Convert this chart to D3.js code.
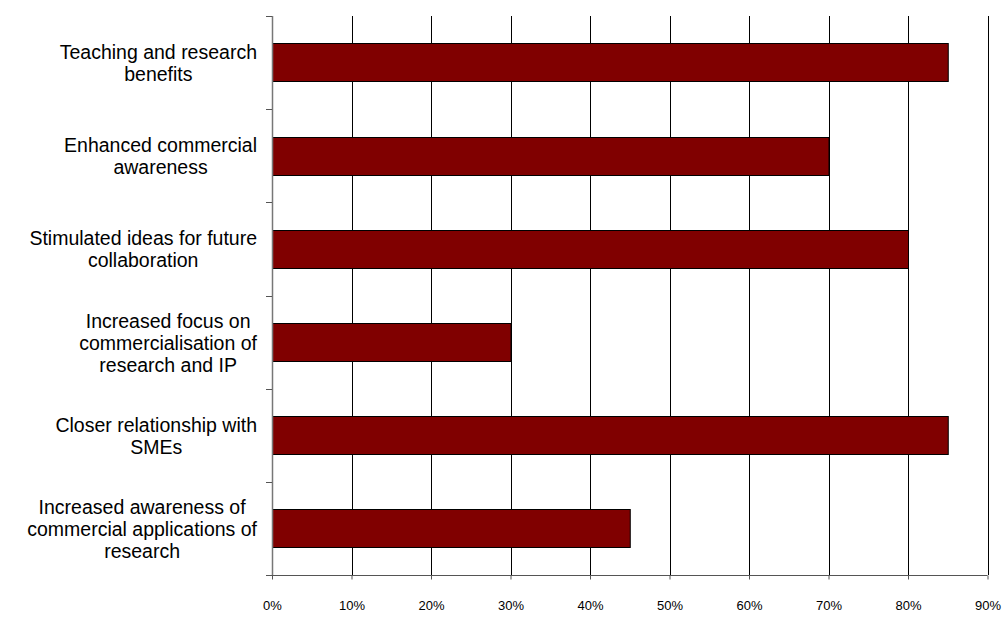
<!DOCTYPE html>
<html><head><meta charset="utf-8">
<script src="https://cdn.jsdelivr.net/npm/d3@7"></script>
<style>body{margin:0;background:#fff}svg{display:block}</style>
</head><body>
<svg id="c" width="1002" height="617"></svg>
<script>
const categories = [
  ["Teaching and research", "benefits"],
  ["Enhanced commercial", "awareness"],
  ["Stimulated ideas for future", "collaboration"],
  ["Increased focus on", "commercialisation of", "research and IP"],
  ["Closer relationship with", "SMEs"],
  ["Increased awareness of", "commercial applications of", "research"]
];
const values = [85, 70, 80, 30, 85, 45];
const xTicks = [0, 10, 20, 30, 40, 50, 60, 70, 80, 90];

const svg = d3.select("#c");
const L = 272, R = 987.5, T = 16, B = 575;
const ids = categories.map((d, i) => i);
const x = d3.scaleLinear().domain([0, 90]).range([L, R]);
const y = d3.scaleBand().domain(ids).range([T, B]).paddingInner(0.59).paddingOuter(0.295);
const yb = d3.scaleBand().domain(ids).range([T, B]);

// gridlines
svg.append("g").selectAll("line").data(xTicks.filter(d => d > 0)).join("line")
  .attr("x1", d => Math.round(x(d)) + 0.5).attr("x2", d => Math.round(x(d)) + 0.5)
  .attr("y1", T).attr("y2", B).attr("stroke", "#000").attr("stroke-width", 1);

// bars
svg.append("g").selectAll("rect").data(values).join("rect")
  .attr("x", L + 0.5).attr("y", (d, i) => Math.round(y(i)) + 0.5)
  .attr("width", d => x(d) - L).attr("height", Math.round(y.bandwidth()))
  .attr("fill", "#800000").attr("stroke", "#000").attr("stroke-width", 1);

// bottom axis
const xa = svg.append("g").attr("transform", `translate(0,${B + 0.5})`)
  .call(d3.axisBottom(x).tickValues(xTicks).tickFormat(d => d + "%").tickSize(4).tickSizeOuter(0).tickPadding(21));
xa.select(".domain").attr("stroke", "#555").attr("d", `M${L - 6},0H${R}`);
xa.selectAll(".tick line").attr("stroke", "#555");
xa.selectAll("text").attr("font-family", "Arial, 'Liberation Sans', sans-serif").attr("font-size", 13).attr("fill", "#000");

// left axis
svg.append("line").attr("x1", L + 0.5).attr("x2", L + 0.5).attr("y1", T).attr("y2", B)
  .attr("stroke", "#777").attr("stroke-width", 1.5);
const bounds = ids.map(i => yb(i)).concat([B]);
svg.append("g").selectAll("line").data(bounds.slice(0, -1)).join("line")
  .attr("x1", L - 6).attr("x2", L).attr("y1", d => Math.round(d) + 0.5).attr("y2", d => Math.round(d) + 0.5)
  .attr("stroke", "#555").attr("stroke-width", 1);

// category labels
const lab = svg.append("g").attr("font-family", "Arial, 'Liberation Sans', sans-serif").attr("font-size", 19.5).attr("fill", "#000");
const lh = 22;
categories.forEach((lines, i) => {
  const cy = yb(i) + yb.bandwidth() / 2;
  const y0 = cy - (lines.length - 1) * lh / 2 + 7.5;
  const ts = lines.map((s, j) => lab.append("text").attr("text-anchor", "middle").attr("y", y0 + j * lh).text(s));
  const w = d3.max(ts, t => t.node().getComputedTextLength());
  ts.forEach(t => t.attr("x", 257 - w / 2));
});
</script>
</body></html>
